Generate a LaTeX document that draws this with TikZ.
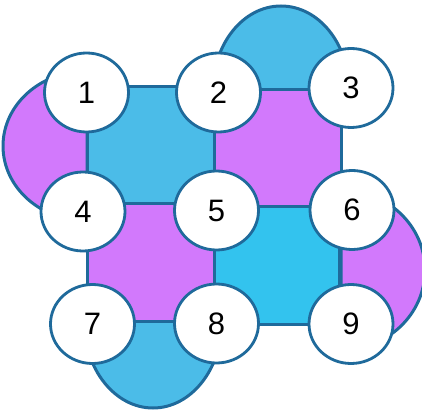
\documentclass[tikz,border=0pt]{standalone}
\usepackage{fontspec}
\setmainfont{Liberation Sans}
\usepackage{xcolor}
\usetikzlibrary{shapes.geometric}

\definecolor{edgeblue}{HTML}{1F6A9B}
\definecolor{skyblue}{HTML}{4BBCE8}
\definecolor{cyanblue}{HTML}{33C3EE}
\definecolor{lilac}{HTML}{D279FC}

\tikzset{
    plaq/.style={draw=edgeblue, line width=3pt, line join=round},
    site/.style={ellipse, draw=edgeblue, line width=2.8pt, fill=white,
        minimum width=84pt, minimum height=79pt, inner sep=0pt,
        font=\fontsize{31}{37}\selectfont}
}

\begin{document}
\begin{tikzpicture}[x=1pt, y=1pt]
        \useasboundingbox (0, 0) rectangle (422, 412);

        % Outer half ellipses
        \draw[plaq, fill=lilac] (87, 341) arc[start angle=90, end angle=270, x radius=84pt, y radius=75pt] -- cycle;
        \draw[plaq, fill=skyblue] (349, 322) arc[start angle=0, end angle=180, x radius=68pt, y radius=84pt] -- cycle;
        \draw[plaq, fill=lilac] (341, 62) arc[start angle=-90, end angle=90, x radius=84pt, y radius=80pt] -- cycle;
        \draw[plaq, fill=skyblue] (222, 91) arc[start angle=0, end angle=-180, x radius=69pt, y radius=87pt] -- cycle;

        % Squares
        \draw[plaq, fill=skyblue] (87, 208) rectangle (214, 325);
        \draw[plaq, fill=lilac] (214, 205) rectangle (341, 322);
        \draw[plaq, fill=lilac] (87, 91) rectangle (214, 208);
        \draw[plaq, fill=cyanblue] (214, 88) rectangle (339, 205);

        % Sites
        \node[site] (n1) at (86.5, 319.5) {1};
        \node[site] (n2) at (218.5, 319.5) {2};
        \node[site] (n3) at (351, 324) {3};
        \node[site] (n4) at (83, 200.5) {4};
        \node[site] (n5) at (216.5, 201.5) {5};
        \node[site] (n6) at (352, 202) {6};
        \node[site] (n7) at (92.5, 88) {7};
        \node[site] (n8) at (216.5, 88.5) {8};
        \node[site] (n9) at (351, 88) {9};
    \end{tikzpicture}
\end{document}
